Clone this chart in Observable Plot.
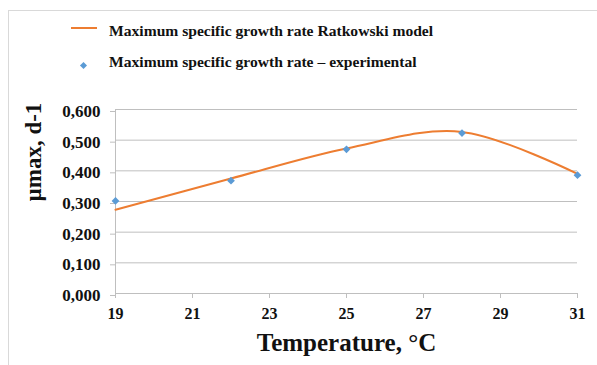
<!DOCTYPE html>
<html>
<head>
<meta charset="utf-8">
<script src="https://cdn.jsdelivr.net/npm/d3@7"></script>
<script src="https://cdn.jsdelivr.net/npm/@observablehq/plot@0.6"></script>
<style>
  html, body { margin: 0; padding: 0; background: #fff; }
  #chart {
    position: relative; width: 597px; height: 365px; overflow: hidden;
    font-family: 'Liberation Serif', 'Times New Roman', serif;
  }
  #frame {
    position: absolute; left: 8px; top: 10px; right: 0; bottom: 0;
    border-top: 1px solid #d9d9d9; border-left: 1px solid #d9d9d9;
  }
  .label {
    position: absolute; left: 109px; white-space: nowrap;
    font-family: 'Liberation Serif', serif; font-weight: bold;
    font-size: 15.6px; line-height: 16px; color: #111;
  }
  .swatch-line {
    position: absolute; left: 71px; width: 26px; height: 0;
    border-top: 2px solid #ED7D31;
  }
  .swatch-dot {
    position: absolute; width: 5px; height: 5px; background: #5B9BD5;
    transform: rotate(45deg);
  }
  #plot { position: absolute; left: 0; top: 90px; }
  #plot svg { overflow: visible; }
</style>
</head>
<body>
<div id="chart">
  <div id="frame"></div>
  <div id="legend"></div>
  <div id="plot"></div>
</div>
<script>
// Maximum specific growth rate vs temperature
const seriesNames = [
  "Maximum specific growth rate Ratkowski model",
  "Maximum specific growth rate \u2013 experimental"
];
const tempModel = [19, 22, 25, 28, 31];
const muModel = [0.273, 0.375, 0.473, 0.527, 0.390];
const tempExp = [19, 22, 25, 28, 31];
const muExp = [0.302, 0.368, 0.470, 0.523, 0.386];
const xTicks = [19, 21, 23, 25, 27, 29, 31];
const yTicks = [0, 0.1, 0.2, 0.3, 0.4, 0.5, 0.6];
const xTitle = "Temperature, \u00b0C";
const yTitle = "\u00b5max, d-1";

const model = tempModel.map((t, i) => ({t, mu: muModel[i]}));
const experimental = tempExp.map((t, i) => ({t, mu: muExp[i]}));

// legend: a line swatch for the model, a diamond for the measurements
const legend = document.getElementById("legend");
const line = document.createElement("div");
line.className = "swatch-line";
line.style.top = "27px";
const dot = document.createElement("div");
dot.className = "swatch-dot";
dot.style.left = "80.5px";
dot.style.top = "63px";
const label1 = document.createElement("div");
label1.className = "label";
label1.style.top = "22.5px";
label1.textContent = seriesNames[0];
const label2 = document.createElement("div");
label2.className = "label";
label2.style.top = "54.3px";
label2.textContent = seriesNames[1];
legend.append(line, dot, label1, label2);

const font = "'Liberation Serif', 'Times New Roman', serif";
const fmt = d => d.toFixed(3).replace(".", ",");

const plot = Plot.plot({
  width: 597,
  height: 275,
  marginLeft: 115,
  marginRight: 20,
  marginTop: 19,
  marginBottom: 72,
  style: {fontFamily: font, color: "#111", background: "transparent"},
  x: {domain: [19, 31]},
  y: {domain: [0, 0.6]},
  marks: [
    Plot.gridY(yTicks, {stroke: "#bfbfbf", strokeOpacity: 1}),
    Plot.ruleX([19], {stroke: "#bfbfbf"}),
    Plot.ruleY([0], {stroke: "#bfbfbf"}),
    Plot.axisY(yTicks, {
      tickFormat: fmt, tickSize: 5, tickPadding: 10, stroke: "#bfbfbf",
      fontSize: 17, fontWeight: "bold", fill: "#111", fontFamily: font,
      dy: 2, label: null
    }),
    Plot.axisX(xTicks, {
      tickSize: 5, tickPadding: 9, stroke: "#bfbfbf",
      fontSize: 16, fontWeight: "bold", fill: "#111", fontFamily: font,
      label: null
    }),
    Plot.line(model, {x: "t", y: "mu", curve: "cardinal", stroke: "#ED7D31", strokeWidth: 2}),
    Plot.dot(experimental, {x: "t", y: "mu", symbol: "diamond2", r: 3.5, fill: "#5B9BD5", stroke: "none"}),
    Plot.text([yTitle], {
      frameAnchor: "left", dx: -82, rotate: -90, fontSize: 23, fontWeight: "bold",
      fill: "#111", fontFamily: font
    }),
    Plot.text([xTitle], {
      frameAnchor: "bottom", dy: 57, fontSize: 25, fontWeight: "bold",
      fill: "#111", fontFamily: font
    })
  ]
});
document.getElementById("plot").append(plot);
</script>
</body>
</html>
